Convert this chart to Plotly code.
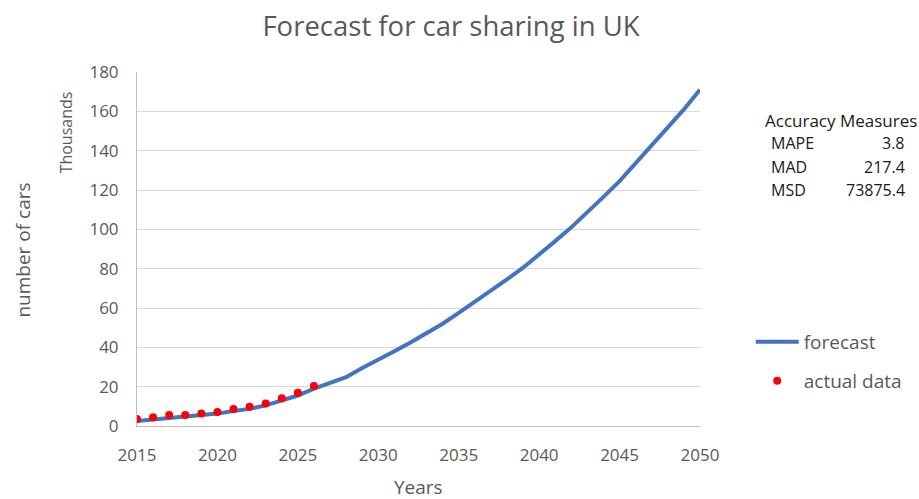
import plotly.graph_objects as go

# Forecast series (thousands of cars)
forecast_years = list(range(2015, 2051))
forecast_values = [2.5, 3.2, 4.0, 4.5, 5.2, 6.3, 7.6, 8.7, 10.5, 12.8,
                   15.5, 19.0, 22.0, 24.8, 29.5, 33.5, 38.0, 42.5, 47.0, 52.0,
                   57.5, 63.0, 68.5, 74.5, 80.5, 87.0, 94.0, 101.0, 108.5, 116.5,
                   124.5, 133.5, 143.0, 151.5, 161.0, 171.0]

# Observed values (thousands of cars)
actual_years = list(range(2015, 2027))
actual_values = [3.6, 4.4, 5.6, 5.6, 6.4, 7.1, 8.6, 9.8, 11.5, 14.1, 16.9, 20.3]

# Accuracy measures table
measure_names = ["MAPE", "MAD", "MSD"]
measure_values = ["3.8", "217.4", "73875.4"]

x_ticks = [2015, 2020, 2025, 2030, 2035, 2040, 2045, 2050]
y_ticks = [0, 20, 40, 60, 80, 100, 120, 140, 160, 180]

FONT = "Open Sans"
GREY = "#595959"
DARK = "#1a1a1a"

fig = go.Figure()
fig.add_trace(go.Scatter(
    x=forecast_years, y=forecast_values, mode="lines", name="forecast",
    line=dict(color="#4472C4", width=4), legend="legend"))
fig.add_trace(go.Scatter(
    x=actual_years, y=actual_values, mode="markers", name="actual data",
    marker=dict(color="#FF0000", size=8), legend="legend2"))

W, H = 919, 499
L, R, T, B = 137, 216, 72, 73
pw, ph = W - L - R, H - T - B


def px_x(x):
    return (x - L) / pw


def px_y(y):
    return (H - B - y) / ph


def note(text, x, y, size, color=GREY, xanchor="center", angle=0):
    return dict(text=text, x=px_x(x), y=px_y(y), xref="paper", yref="paper",
                xanchor=xanchor, yanchor="middle", textangle=angle, showarrow=False,
                font=dict(size=size, color=color, family=FONT))


annotations = [
    note("Thousands", 66, 132, 16, angle=-90),
    note("number of cars", 22, 250, 19, angle=-90),
    note("Years", 420, 487, 19),
    note("Accuracy Measures", 766, 120, 17, color=DARK, xanchor="left"),
]
for i, (n, v) in enumerate(zip(measure_names, measure_values)):
    yy = 143 + 23.5 * i
    annotations.append(note(n, 772, yy, 16, color=DARK, xanchor="left"))
    annotations.append(note(v, 911, yy, 16, color=DARK, xanchor="right"))

fig.update_layout(
    width=W, height=H,
    margin=dict(l=L, r=R, t=T, b=B),
    paper_bgcolor="white", plot_bgcolor="white",
    font=dict(family=FONT, color=GREY),
    title=dict(text="Forecast for car sharing in UK", x=451 / W, xanchor="center",
               y=1 - 26 / H, yanchor="middle",
               font=dict(size=27.5, color=GREY, family=FONT)),
    xaxis=dict(range=[2015, 2050], tickvals=x_ticks, showgrid=False,
               showline=True, linecolor="#BFBFBF", linewidth=1, zeroline=False,
               ticks="", ticklabelstandoff=14, tickfont=dict(size=17, color=GREY)),
    yaxis=dict(range=[0, 180], tickvals=y_ticks, showgrid=True, gridcolor="#D9D9D9",
               showline=True, linecolor="#BFBFBF", linewidth=1, zeroline=False,
               ticks="", ticklabelstandoff=14, tickfont=dict(size=17, color=GREY)),
    legend=dict(x=px_x(754), y=px_y(342), xanchor="left", yanchor="middle",
                font=dict(size=19, color=GREY), itemwidth=43, bgcolor="rgba(0,0,0,0)"),
    legend2=dict(x=px_x(754), y=px_y(381), xanchor="left", yanchor="middle",
                 font=dict(size=19, color=GREY), itemwidth=43, bgcolor="rgba(0,0,0,0)"),
    annotations=annotations,
    showlegend=True,
)

fig.write_html("out.html")
